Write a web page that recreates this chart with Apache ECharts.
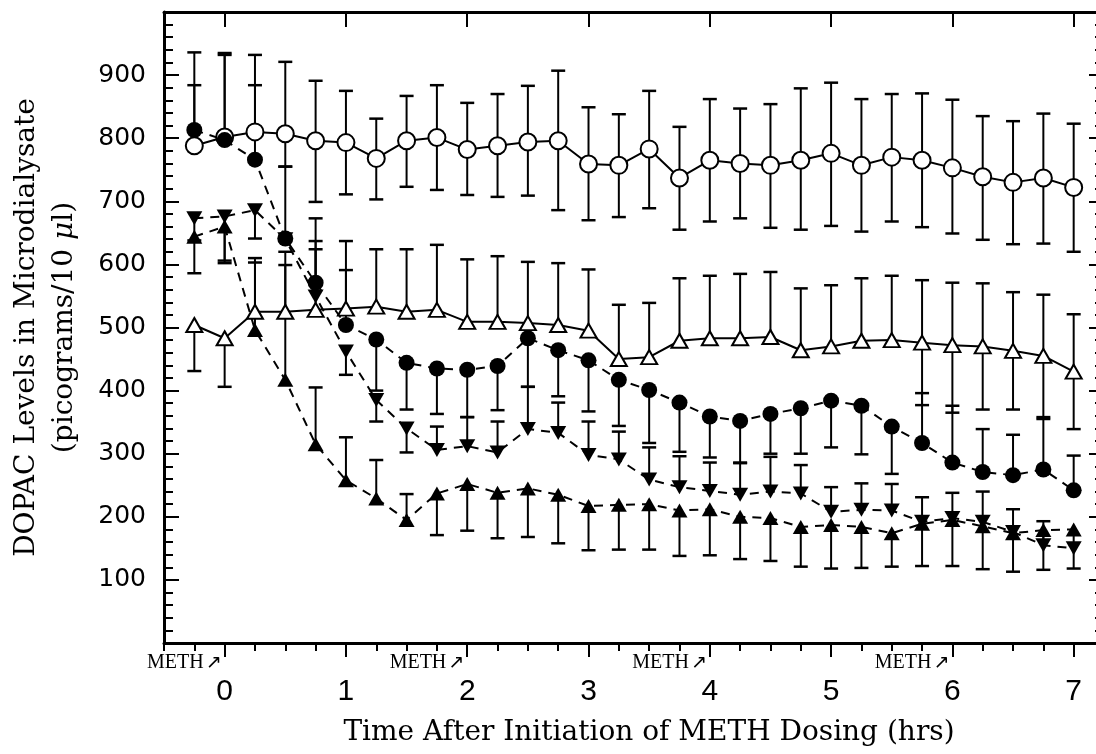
<!DOCTYPE html>
<html>
<head>
<meta charset="utf-8">
<script src="https://cdn.jsdelivr.net/npm/echarts@6/dist/echarts.min.js"></script>
<style>
  html, body { margin: 0; padding: 0; background: #fff; }
  #chart { width: 1096px; height: 754px; }
</style>
</head>
<body>
<div id="chart"></div>
<script>
// sampling times (hrs)
var times = [-0.25, 0, 0.25, 0.5, 0.75, 1, 1.25, 1.5, 1.75, 2, 2.25, 2.5, 2.75, 3, 3.25, 3.5,
  3.75, 4, 4.25, 4.5, 4.75, 5, 5.25, 5.5, 5.75, 6, 6.25, 6.5, 6.75, 7];
var hourTicks = [0, 1, 2, 3, 4, 5, 6, 7];
var methTimes = [0, 2, 4, 6];

// open circles
var openCircle = [788, 802, 810, 807, 796, 793, 768, 796, 801, 782, 788, 794, 796, 759, 757, 783,
  737, 765, 760, 757, 765, 776, 757, 770, 765, 753, 739, 730, 737, 722];
var openCircleUp = [148, 133, 122, 114, 95, 82, 63, 71, 83, 74, 82, 89, 111, 90, 81, 92,
  81, 97, 87, 97, 114, 112, 105, 100, 106, 108, 96, 97, 102, 101];
var openCircleDown = [null, null, null, 52, 97, 82, 65, 73, 83, 72, 81, 85, 110, 89, 82, 94,
  82, 97, 87, 99, 110, 115, 105, 102, 106, 104, 100, 98, 104, 102];

// filled circles
var filledCircle = [813, 797, 766, 641, 571, 504, 481, 444, 435, 433, 439, 483, 464, 448, 417, 401,
  381, 359, 352, 363, 372, 384, 376, 343, 317, 286, 271, 266, 275, 242];
var filledCircleUp = [71, 135, 118, 114, 102, 87, null, null, null, null, null, null, null, null, null, null,
  null, null, null, null, null, null, null, null, 79, 90, 68, 64, 80, 55];
var filledCircleDown = [null, null, null, null, null, null, 81, 74, 72, 75, 70, 77, 73, 81, 73, 84,
  78, 65, 66, 63, 72, 74, 77, 75, null, null, null, null, null, null];

// filled down-triangles
var downTri = [673, 676, 686, 640, 549, 462, 385, 340, 306, 312, 302, 339, 333, 298, 291, 259,
  247, 241, 235, 240, 237, 208, 211, 210, 192, 198, 192, 176, 155, 150];
var downTriUp = [null, null, null, null, 75, null, null, null, 37, 46, 49, 67, 48, 53, 44, 51,
  49, 45, 50, 55, 45, 39, 42, 42, 39, 40, 48, 36, 38, null];
var downTriDown = [35, 70, 45, null, null, 37, 34, 38, null, null, null, null, null, null, null, null,
  null, null, null, null, null, null, null, null, null, null, null, null, null, null];

// filled up-triangles
var upTri = [644, 660, 496, 417, 315, 258, 229, 195, 237, 252, 238, 245, 235, 217, 219, 220,
  210, 212, 200, 198, 184, 187, 184, 174, 189, 195, 185, 174, 179, 180];
var upTriUp = [null, null, 107, 182, 90, 68, 61, 41, null, null, null, null, null, null, null, null,
  null, null, null, null, null, null, null, null, null, null, null, null, null, null];
var upTriDown = [58, 58, null, null, null, null, null, null, 66, 74, 72, 77, 77, 70, 71, 72,
  72, 73, 67, 68, 63, 69, 65, 53, 67, 73, 68, 61, 63, 62];

// open triangles
var openTri = [504, 483, 525, 525, 528, 530, 533, 525, 528, 509, 509, 507, 504, 495, 450, 453,
  479, 483, 483, 485, 464, 470, 479, 480, 476, 472, 470, 463, 455, 430];
var openTriUp = [null, null, 85, 95, 109, 107, 91, 99, 103, 99, 104, 97, 98, 97, 86, 86,
  99, 99, 102, 103, 98, 97, 99, 102, 99, 99, 100, 93, 97, 91];
var openTriDown = [73, 77, null, null, null, null, null, null, null, null, null, null, null, null, null, null,
  null, null, null, null, null, null, null, null, 99, 107, 100, 93, 97, 91];

var xTitle = 'Time After Initiation of METH Dosing (hrs)';
var yTitle = 'DOPAC Levels in Microdialysate\n(picograms/10 {i|\u03bc}l)';

var ink = '#000';
var serif = '"DejaVu Serif", serif';

// vertical error bars with caps, drawn through the chart's own axes
function errorBars(vals, up, down) {
  return {
    type: 'custom',
    xAxisIndex: 0,
    yAxisIndex: 0,
    z: 2,
    silent: true,
    data: times.map(function(t, i) { return [t, vals[i], up[i] || 0, down[i] || 0]; }),
    encode: { x: 0, y: 1 },
    renderItem: function(params, api) {
      var t = api.value(0), v = api.value(1);
      var c = api.coord([t, v]);
      var kids = [];
      [[api.value(2), 1], [api.value(3), -1]].forEach(function(p) {
        if (!p[0]) return;
        var e = api.coord([t, v + p[1] * p[0]]);
        kids.push({ type: 'line', shape: { x1: c[0], y1: c[1], x2: e[0], y2: e[1] },
          style: { stroke: ink, lineWidth: 2 } });
        kids.push({ type: 'line', shape: { x1: e[0] - 7, y1: e[1], x2: e[0] + 7, y2: e[1] },
          style: { stroke: ink, lineWidth: 2.5 } });
      });
      return { type: 'group', children: kids };
    }
  };
}

function lineSeries(vals, symbol, size, filled, dashed, rotate) {
  return {
    type: 'line',
    xAxisIndex: 0,
    yAxisIndex: 0,
    z: 3,
    data: times.map(function(t, i) { return [t, vals[i]]; }),
    symbol: symbol,
    symbolSize: size,
    symbolRotate: rotate || 0,
    showSymbol: true,
    lineStyle: { color: ink, width: 2, type: dashed ? [9, 7] : 'solid' },
    itemStyle: { color: filled ? ink : '#fff', borderColor: ink, borderWidth: filled ? 0 : 2 },
    emphasis: { disabled: true },
    silent: true
  };
}

var xBase = { type: 'value', min: -0.5, max: 7.25, splitLine: { show: false } };
function xAxis(extra) { return Object.assign({}, xBase, extra); }
var tickLine = { color: ink, width: 2 };

var chart = echarts.init(document.getElementById('chart'));
chart.setOption({
  animation: false,
  grid: { left: 164, top: 12, width: 940, height: 631, containLabel: false, outerBoundsMode: 'none' },
  xAxis: [
    // bottom: hour ticks, labels and title
    xAxis({
      position: 'bottom',
      name: xTitle,
      nameLocation: 'middle',
      nameGap: 76,
      nameTextStyle: { color: ink, fontSize: 28, fontFamily: serif, padding: [0, 0, 0, 30] },
      axisLine: { show: true, onZero: false, lineStyle: { color: ink, width: 3 } },
      axisTick: { show: true, customValues: hourTicks, inside: false, length: 14, lineStyle: tickLine },
      axisLabel: { show: true, customValues: hourTicks, margin: 34, color: ink, fontSize: 30,
        fontFamily: '"Liberation Sans", sans-serif' }
    }),
    // bottom: quarter-hour ticks
    xAxis({
      position: 'bottom', interval: 0.25,
      axisLine: { show: false },
      axisTick: { show: true, inside: false, length: 7, lineStyle: tickLine },
      axisLabel: { show: false }
    }),
    // top frame
    xAxis({
      position: 'top',
      axisLine: { show: true, onZero: false, lineStyle: { color: ink, width: 3 } },
      axisTick: { show: true, customValues: hourTicks, inside: true, length: 15, lineStyle: tickLine },
      axisLabel: { show: false }
    }),
    xAxis({
      position: 'top', interval: 0.25,
      axisLine: { show: false },
      axisTick: { show: true, inside: true, length: 8, lineStyle: tickLine },
      axisLabel: { show: false }
    }),
    // METH dosing marks
    xAxis({
      position: 'bottom',
      axisLine: { show: false },
      axisTick: { show: false },
      axisLabel: {
        show: true, customValues: methTimes, margin: 10, align: 'right', padding: [0, 3, 0, 0],
        formatter: function() { return '{m|METH}{a|\u2197}'; },
        rich: {
          m: { color: ink, fontSize: 20, fontFamily: '"Liberation Serif", serif' },
          a: { color: ink, fontSize: 19, fontFamily: '"DejaVu Sans", sans-serif', padding: [0, 0, 0, 2] }
        }
      }
    })
  ],
  yAxis: [
    {
      type: 'value', position: 'left', min: 0, max: 1000, interval: 100,
      name: yTitle,
      nameLocation: 'middle',
      nameRotate: 90,
      nameGap: 80,
      nameTextStyle: {
        color: ink, fontSize: 28, fontFamily: serif, lineHeight: 38,
        rich: { i: { color: ink, fontSize: 28, fontFamily: serif, fontStyle: 'italic', lineHeight: 38 } }
      },
      axisLine: { show: true, onZero: false, lineStyle: { color: ink, width: 3 } },
      axisTick: { show: true, inside: true, length: 15, lineStyle: tickLine },
      minorTick: { show: true, splitNumber: 5, length: 9, lineStyle: tickLine },
      axisLabel: {
        margin: 18, color: ink, fontSize: 25, fontFamily: '"DejaVu Sans", sans-serif',
        formatter: function(v) { return (v === 0 || v === 1000) ? '' : String(v); }
      },
      splitLine: { show: false }
    },
    {
      type: 'value', position: 'right', min: 0, max: 1000, interval: 100,
      axisLine: { show: true, onZero: false, lineStyle: { color: ink, width: 3 } },
      axisTick: { show: true, inside: true, length: 15, lineStyle: tickLine },
      minorTick: { show: true, splitNumber: 5, length: 9, lineStyle: tickLine },
      axisLabel: { show: false },
      splitLine: { show: false }
    }
  ],
  series: [
    errorBars(openTri, openTriUp, openTriDown),
    errorBars(openCircle, openCircleUp, openCircleDown),
    errorBars(upTri, upTriUp, upTriDown),
    errorBars(downTri, downTriUp, downTriDown),
    errorBars(filledCircle, filledCircleUp, filledCircleDown),
    lineSeries(openTri, 'triangle', [16, 14], false, false),
    lineSeries(openCircle, 'circle', 17, false, false),
    lineSeries(upTri, 'triangle', [16, 14], true, true),
    lineSeries(downTri, 'triangle', [16, 14], true, true, 180),
    lineSeries(filledCircle, 'circle', 16, true, true)
  ]
});
</script>
</body>
</html>
